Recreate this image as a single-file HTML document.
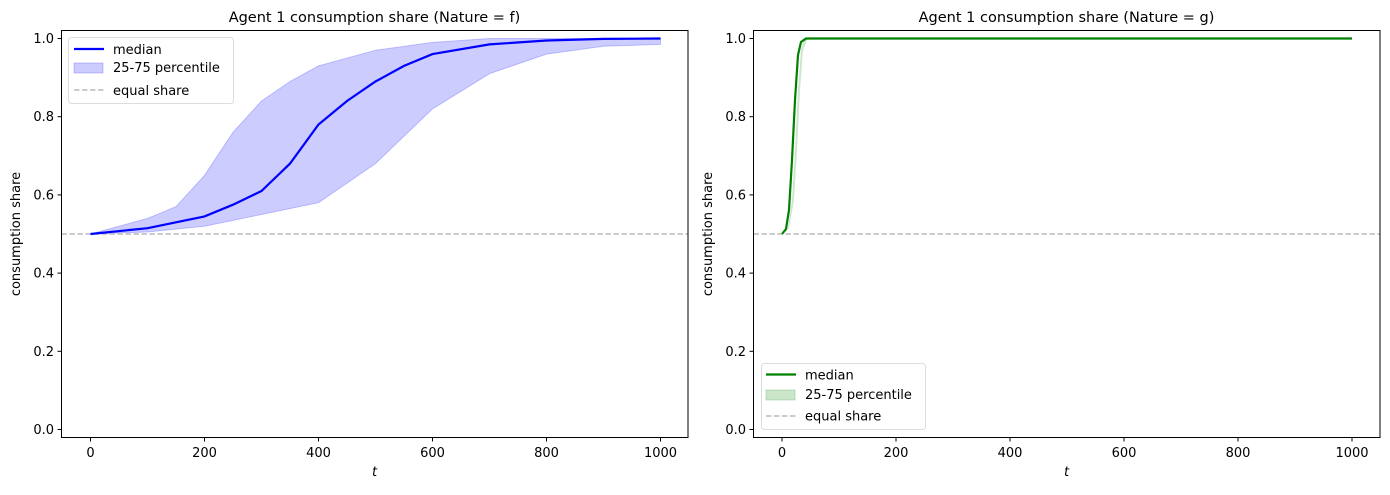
<!DOCTYPE html>
<html><head><meta charset="utf-8"><style>
body{margin:0;background:#fff}
svg text{font-family:"DejaVu Sans","Liberation Sans",sans-serif;fill:#000}
</style></head><body>
<svg width="1390" height="490" xmlns="http://www.w3.org/2000/svg">
<g font-size="13">
<text x="374.5" y="22" text-anchor="middle" font-size="14.5">Agent 1 consumption share (Nature = f)</text>
<text x="1066.5" y="22" text-anchor="middle" font-size="14.5">Agent 1 consumption share (Nature = g)</text>
</g>
<!-- left -->
<polygon fill="#0000ff" fill-opacity="0.2" stroke="#0000ff" stroke-opacity="0.2" points="90.5,234 147.5,218.4 176,206.6 204.5,175.4 233,132.3 261.5,101 290,81.5 318.5,65.9 375.5,50.2 432.5,42.4 489.5,38.5 660.5,38.5 660.5,44.4 603.5,46.3 546.5,54.1 489.5,73.7 432.5,108.9 375.5,163.6 318.5,202.7 261.5,214.5 204.5,226.2 147.5,232 90.5,234"/>
<line x1="61.5" x2="688" y1="234" y2="234" stroke="#bbb" stroke-width="1.5" stroke-dasharray="5.5,2.5"/>
<polyline fill="none" stroke="#0000ff" stroke-width="2.2" points="90.5,234 147.5,228.2 204.5,216.4 233,204.7 261.5,191 290,163.6 318.5,124.5 347,101 375.5,81.5 404,65.9 432.5,54.1 489.5,44.4 546.5,40.5 603.5,38.9 660.5,38.5"/>
<rect x="61.5" y="30.5" width="626.5" height="407" fill="none" stroke="#000" stroke-width="1"/>
<!-- right -->
<polygon fill="#008000" fill-opacity="0.2" points="782,234 789,228 794,200 797,150 800,90 803,50 807,40 812,38.5 1352,38.5 1352,38.5 808,38.5 804,40 801,50 798,90 795,150 792,200 788,228"/>
<line x1="753.5" x2="1380" y1="234" y2="234" stroke="#bbb" stroke-width="1.5" stroke-dasharray="5.5,2.5"/>
<polyline fill="none" stroke="#008000" stroke-width="2.2" points="782,234 786,229 789,210 792,160 795,100 798,55 801,42 806,38.5 1352,38.5"/>
<rect x="753.5" y="30.5" width="626.5" height="407" fill="none" stroke="#000" stroke-width="1"/>
<!-- y ticks -->
<g font-size="13" text-anchor="end">
<g id="yt">
<line x1="57.5" x2="61.5" y1="38.5" y2="38.5" stroke="#000"/><text x="54" y="43">1.0</text>
<line x1="57.5" x2="61.5" y1="116.7" y2="116.7" stroke="#000"/><text x="54" y="121.2">0.8</text>
<line x1="57.5" x2="61.5" y1="194.9" y2="194.9" stroke="#000"/><text x="54" y="199.4">0.6</text>
<line x1="57.5" x2="61.5" y1="273.1" y2="273.1" stroke="#000"/><text x="54" y="277.6">0.4</text>
<line x1="57.5" x2="61.5" y1="351.3" y2="351.3" stroke="#000"/><text x="54" y="355.8">0.2</text>
<line x1="57.5" x2="61.5" y1="429.5" y2="429.5" stroke="#000"/><text x="54" y="434">0.0</text>
</g>
<use href="#yt" x="692"/>
</g>
<g font-size="13" text-anchor="middle">
<g id="xt">
<line x1="90.5" x2="90.5" y1="437.5" y2="441.5" stroke="#000"/><text x="90.5" y="457">0</text>
<line x1="204.5" x2="204.5" y1="437.5" y2="441.5" stroke="#000"/><text x="204.5" y="457">200</text>
<line x1="318.5" x2="318.5" y1="437.5" y2="441.5" stroke="#000"/><text x="318.5" y="457">400</text>
<line x1="432.5" x2="432.5" y1="437.5" y2="441.5" stroke="#000"/><text x="432.5" y="457">600</text>
<line x1="546.5" x2="546.5" y1="437.5" y2="441.5" stroke="#000"/><text x="546.5" y="457">800</text>
<line x1="660.5" x2="660.5" y1="437.5" y2="441.5" stroke="#000"/><text x="660.5" y="457">1000</text>
</g>
<use href="#xt" x="691.5"/>
<text x="374.5" y="476" font-style="italic">t</text>
<text x="1066.5" y="476" font-style="italic">t</text>
<text transform="translate(20,234) rotate(-90)">consumption share</text>
<text transform="translate(712,234) rotate(-90)">consumption share</text>
</g>
<!-- legends -->
<g font-size="13">
<rect x="68.5" y="37.5" width="165" height="66" rx="3" fill="#fff" fill-opacity="0.8" stroke="#ddd"/>
<line x1="74" x2="104" y1="49" y2="49" stroke="#0000ff" stroke-width="2.2"/>
<text x="113" y="54">median</text>
<rect x="74" y="63" width="29" height="10" fill="#0000ff" fill-opacity="0.2" stroke="#0000ff" stroke-opacity="0.2"/>
<text x="113" y="72">25-75 percentile</text>
<line x1="74" x2="104" y1="90" y2="90" stroke="#bbb" stroke-width="1.5" stroke-dasharray="5.5,2.5"/>
<text x="113" y="95">equal share</text>

<rect x="761.5" y="363.5" width="164" height="66" rx="3" fill="#fff" fill-opacity="0.8" stroke="#ddd"/>
<line x1="766" x2="796" y1="374.5" y2="374.5" stroke="#008000" stroke-width="2.2"/>
<text x="805" y="379.5">median</text>
<rect x="766" y="390" width="29" height="10" fill="#008000" fill-opacity="0.2" stroke="#008000" stroke-opacity="0.2"/>
<text x="805" y="399">25-75 percentile</text>
<line x1="766" x2="796" y1="416" y2="416" stroke="#bbb" stroke-width="1.5" stroke-dasharray="5.5,2.5"/>
<text x="805" y="420.5">equal share</text>
</g>
</svg>
</body></html>
